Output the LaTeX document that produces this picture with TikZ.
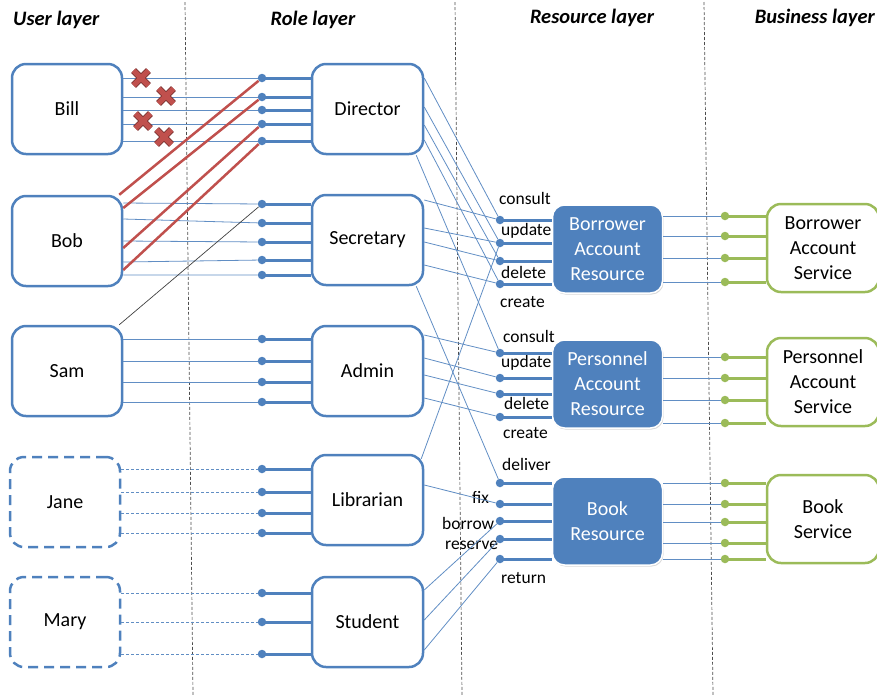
\documentclass[tikz,border=0pt]{standalone}
\usepackage{fontspec}
\setmainfont{Carlito}
\usetikzlibrary{calc,arrows.meta,positioning,shapes.misc,shadows}
\definecolor{roleblue}{RGB}{79,129,189}
\definecolor{svcgreen}{RGB}{155,187,89}
\definecolor{denyred}{RGB}{192,80,77}

\begin{document}
\begin{tikzpicture}[x=1pt, y=-1pt, >=Latex,
  wire/.style={draw=roleblue!90, line width=0.8pt},
  guestwire/.style={wire, dash pattern=on 3pt off 2pt},
  grant/.style={draw=denyred, line width=2.5pt},
  stub/.style={draw=roleblue, line width=3pt},
  gstub/.style={draw=svcgreen, line width=3pt},
  layerline/.style={draw=black!70, line width=0.7pt, dash pattern=on 3pt off 2pt}]
% Define styles for boxes, ports and labels
\tikzstyle{userbox} = [draw=roleblue, line width=2.5pt, rounded corners=14pt, minimum width=110pt, minimum height=90pt, font=\fontsize{20}{25}\selectfont]
\tikzstyle{guest} = [dash pattern=on 10pt off 6pt]
\tikzstyle{rolebox} = [userbox, minimum width=111pt]
\tikzstyle{resbox} = [fill=roleblue, draw=white, line width=1.5pt, rounded corners=12pt, minimum width=110pt, minimum height=88pt, text=white, align=center, font=\fontsize{20}{25}\selectfont, drop shadow={shadow xshift=1pt, shadow yshift=-1.5pt, opacity=0.3}]
\tikzstyle{svcbox} = [draw=svcgreen, line width=2.5pt, rounded corners=14pt, minimum width=112pt, minimum height=88pt, align=center, font=\fontsize{20}{25}\selectfont]
\tikzstyle{port} = [circle, fill=roleblue, inner sep=0pt, minimum size=8.5pt]
\tikzstyle{gport} = [port, fill=svcgreen]
\tikzstyle{oplabel} = [anchor=west, inner sep=0pt, font=\fontsize{17.5}{20}\selectfont]
\tikzstyle{layertitle} = [inner sep=0pt, font=\fontsize{20.5}{22}\selectfont\bfseries\itshape]
\tikzstyle{denied} = [cross out, draw=denyred!65!black, line width=0.9pt, double=denyred, double distance=5pt, minimum size=14pt, inner sep=0pt]

\useasboundingbox (0,0) rectangle (877,697);
\clip (0,0) rectangle (877,697);

% Layer separators
\draw[layerline] (185,2) -- (193,695);
\draw[layerline] (455,2) -- (462,695);
\draw[layerline] (704,2) -- (713,695);

% Layer titles
\node[layertitle, anchor=west] (usertitle) at (13,20) {User layer};
\node[layertitle] (roletitle) at (313,20) {Role layer};
\node[layertitle] (restitle) at (592,18) {Resource layer};
\node[layertitle, anchor=east] (bustitle) at (875,18) {Business layer};

% Users
\node[userbox] (bill) at (67,109) {Bill};
\node[userbox] (bob) at (67,241) {Bob};
\node[userbox] (sam) at (67,371) {Sam};
\node[userbox, guest] (jane) at (65,502) {Jane};
\node[userbox, guest] (mary) at (65,622) {Mary};

% Roles
\node[rolebox] (director) at (367.5,109) {Director};
\node[rolebox] (secretary) at (367.5,240) {Secretary};
\node[rolebox] (admin) at (367.5,371) {Admin};
\node[rolebox] (librarian) at (367.5,500) {Librarian};
\node[rolebox] (student) at (367.5,622) {Student};

% Resources
\node[resbox] (borres) at (607.5,249) {Borrower\\Account\\Resource};
\node[resbox] (perres) at (607.5,384) {Personnel\\Account\\Resource};
\node[resbox] (bookres) at (607.5,521) {Book\\Resource};

% Services
\node[svcbox] (borsvc) at (823,248) {Borrower\\Account\\Service};
\node[svcbox] (persvc) at (823,382) {Personnel\\Account\\Service};
\node[svcbox] (booksvc) at (823,519) {Book\\Service};

% Role ports
\node[port] (dir1) at (262,78) {};  \node[port] (dir2) at (262,97) {};
\node[port] (dir3) at (262,110) {}; \node[port] (dir4) at (262,124) {};
\node[port] (dir5) at (262,141) {};
\node[port] (sec1) at (262,204) {}; \node[port] (sec2) at (262,223) {};
\node[port] (sec3) at (262,242) {}; \node[port] (sec4) at (262,260) {};
\node[port] (sec5) at (262,275) {};
\node[port] (adm1) at (262,339) {}; \node[port] (adm2) at (262,361) {};
\node[port] (adm3) at (262,382) {}; \node[port] (adm4) at (262,402) {};
\node[port] (lib1) at (262,469) {}; \node[port] (lib2) at (262,492) {};
\node[port] (lib3) at (262,513) {}; \node[port] (lib4) at (262,533) {};
\node[port] (stu1) at (262,593) {}; \node[port] (stu2) at (262,622) {};
\node[port] (stu3) at (262,654) {};

% Resource ports
\node[port] (bor1) at (500,220) {}; \node[port] (bor2) at (500,243) {};
\node[port] (bor3) at (500,261) {}; \node[port] (bor4) at (500,284) {};
\node[port] (per1) at (500,353) {}; \node[port] (per2) at (500,378) {};
\node[port] (per3) at (500,394) {}; \node[port] (per4) at (500,417) {};
\node[port] (bk1) at (500,483) {};  \node[port] (bk2) at (500,504) {};
\node[port] (bk3) at (500,521) {};  \node[port] (bk4) at (500,539) {};
\node[port] (bk5) at (500,559) {};

% Service ports
\node[gport] (bsv1) at (725,216) {}; \node[gport] (bsv2) at (725,236) {};
\node[gport] (bsv3) at (725,258) {}; \node[gport] (bsv4) at (725,282) {};
\node[gport] (psv1) at (725,357) {}; \node[gport] (psv2) at (725,378) {};
\node[gport] (psv3) at (725,400) {}; \node[gport] (psv4) at (725,423) {};
\node[gport] (ksv1) at (725,483) {}; \node[gport] (ksv2) at (725,504) {};
\node[gport] (ksv3) at (725,522) {}; \node[gport] (ksv4) at (725,543) {};
\node[gport] (ksv5) at (725,559) {};

% Operation labels
\node[oplabel] (opc1) at (499,198) {consult};
\node[oplabel] (opu1) at (501,231) {update};
\node[oplabel] (opd1) at (501,272) {delete};
\node[oplabel] (opn1) at (500,302) {create};
\node[oplabel] (opc2) at (503,336) {consult};
\node[oplabel] (opu2) at (501,363) {update};
\node[oplabel] (opd2) at (504,403) {delete};
\node[oplabel] (opn2) at (503,433) {create};
\node[oplabel] (opdeliver) at (502,464) {deliver};
\node[oplabel] (opfix) at (472,497) {fix};
\node[oplabel] (opborrow) at (442,523) {borrow};
\node[oplabel] (opreserve) at (445,545) {reserve};
\node[oplabel] (opreturn) at (501,578) {return};

% Port stubs
\draw[stub] (dir1.center) -- (director.west |- dir1) (dir2.center) -- (director.west |- dir2) (dir3.center) -- (director.west |- dir3) (dir4.center) -- (director.west |- dir4) (dir5.center) -- (director.west |- dir5);
\draw[stub] (sec1.center) -- (secretary.west |- sec1) (sec2.center) -- (secretary.west |- sec2) (sec3.center) -- (secretary.west |- sec3) (sec4.center) -- (secretary.west |- sec4) (sec5.center) -- (secretary.west |- sec5);
\draw[stub] (adm1.center) -- (admin.west |- adm1) (adm2.center) -- (admin.west |- adm2) (adm3.center) -- (admin.west |- adm3) (adm4.center) -- (admin.west |- adm4);
\draw[stub] (lib1.center) -- (librarian.west |- lib1) (lib2.center) -- (librarian.west |- lib2) (lib3.center) -- (librarian.west |- lib3) (lib4.center) -- (librarian.west |- lib4);
\draw[stub] (stu1.center) -- (student.west |- stu1) (stu2.center) -- (student.west |- stu2) (stu3.center) -- (student.west |- stu3);
\draw[stub] (bor1.center) -- (borres.west |- bor1) (bor2.center) -- (borres.west |- bor2) (bor3.center) -- (borres.west |- bor3) (bor4.center) -- (borres.west |- bor4);
\draw[stub] (per1.center) -- (perres.west |- per1) (per2.center) -- (perres.west |- per2) (per3.center) -- (perres.west |- per3) (per4.center) -- (perres.west |- per4);
\draw[stub] (bk1.center) -- (bookres.west |- bk1) (bk2.center) -- (bookres.west |- bk2) (bk3.center) -- (bookres.west |- bk3) (bk4.center) -- (bookres.west |- bk4) (bk5.center) -- (bookres.west |- bk5);
\draw[gstub] (bsv1.center) -- (borsvc.west |- bsv1) (bsv2.center) -- (borsvc.west |- bsv2) (bsv3.center) -- (borsvc.west |- bsv3) (bsv4.center) -- (borsvc.west |- bsv4);
\draw[gstub] (psv1.center) -- (persvc.west |- psv1) (psv2.center) -- (persvc.west |- psv2) (psv3.center) -- (persvc.west |- psv3) (psv4.center) -- (persvc.west |- psv4);
\draw[gstub] (ksv1.center) -- (booksvc.west |- ksv1) (ksv2.center) -- (booksvc.west |- ksv2) (ksv3.center) -- (booksvc.west |- ksv3) (ksv4.center) -- (booksvc.west |- ksv4) (ksv5.center) -- (booksvc.west |- ksv5);

% Users to roles
\draw[wire] (bill.east |- dir1) -- (dir1) (bill.east |- dir2) -- (dir2) (bill.east |- dir3) -- (dir3) (bill.east |- dir4) -- (dir4) (bill.east |- dir5) -- (dir5);
\draw[wire] (bob.east |- 0,203) -- (sec1) (bob.east |- 0,219) -- (sec2) (bob.east |- 0,241) -- (sec3) (bob.east |- 0,262) -- (sec4) (bob.east |- 0,275) -- (sec5);
\draw[wire] (sam.east |- adm1) -- (adm1) (sam.east |- adm2) -- (adm2) (sam.east |- adm3) -- (adm3) (sam.east |- adm4) -- (adm4);
\draw[guestwire] (jane.east |- lib1) -- (lib1) (jane.east |- lib2) -- (lib2) (jane.east |- lib3) -- (lib3) (jane.east |- lib4) -- (lib4);
\draw[guestwire] (mary.east |- stu1) -- (stu1) (mary.east |- stu2) -- (stu2) (mary.east |- stu3) -- (stu3);
\draw[black!75, line width=0.7pt] ([xshift=-4pt]sam.north east) -- (sec1);
\draw[grant] ([xshift=-4pt]bob.north east) -- (dir1) (bob.east |- 0,208) -- (dir2) (bob.east |- 0,248) -- (dir4) (bob.east |- 0,270) -- (dir5);

% Denied assignments
\node[denied] (cx1) at (141,78) {};
\node[denied] (cx2) at (166,96) {};
\node[denied] (cx3) at (143,121) {};
\node[denied] (cx4) at (164,137) {};

% Roles to resources
\draw[wire] (director.east |- 0,78) -- (bor1) (director.east |- 0,107) -- (bor2) (director.east |- 0,125) -- (bor3) (director.east |- 0,140) -- (bor4) ([xshift=-8pt]director.south east) -- (per1);
\draw[wire] (secretary.east |- 0,200) -- (bor1) (secretary.east |- 0,228) -- (bor2) (secretary.east |- 0,242) -- (bor3) (secretary.east |- 0,265) -- (bor4) ([xshift=-8pt]secretary.south east) -- (bk1);
\draw[wire] (admin.east |- 0,335) -- (per1) (admin.east |- 0,358) -- (per2) (admin.east |- 0,375) -- (per3) (admin.east |- 0,398) -- (per4);
\draw[wire] ([xshift=-3pt,yshift=-5pt]librarian.north east) -- (bor2) (librarian.east |- 0,485) -- (bk2);
\draw[wire] (student.east |- 0,590) -- (bk3) (student.east |- 0,620) -- (bk4) (student.east |- 0,650) -- (bk5);

% Resources to services
\draw[wire] (borres.east |- bsv1) -- (bsv1) (borres.east |- bsv2) -- (bsv2) (borres.east |- bsv3) -- (bsv3) (borres.east |- bsv4) -- (bsv4);
\draw[wire] (perres.east |- psv1) -- (psv1) (perres.east |- psv2) -- (psv2) (perres.east |- psv3) -- (psv3) (perres.east |- psv4) -- (psv4);
\draw[wire] (bookres.east |- ksv1) -- (ksv1) (bookres.east |- ksv2) -- (ksv2) (bookres.east |- ksv3) -- (ksv3) (bookres.east |- ksv4) -- (ksv4) (bookres.east |- ksv5) -- (ksv5);
\end{tikzpicture}
\end{document}
